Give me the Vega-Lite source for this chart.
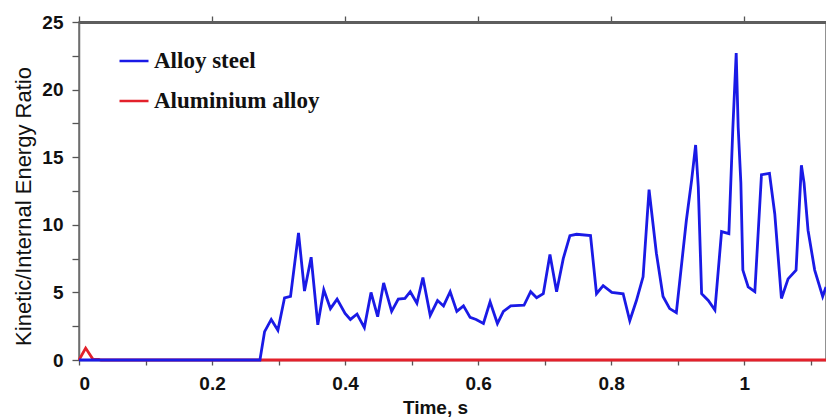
{
  "$schema": "https://vega.github.io/schema/vega-lite/v6.json",
  "width": 747,
  "height": 338,
  "autosize": {"type": "none"},
  "padding": {"left": 79, "top": 22, "right": 0, "bottom": 57},
  "background": "white",
  "config": {
    "view": {"stroke": "#6e6e6e", "strokeWidth": 1.5},
    "axis": {"grid": false, "domainColor": "#6e6e6e", "domainWidth": 1.5, "tickColor": "#555555", "tickWidth": 1.3, "labelFont": "Liberation Sans", "labelFontWeight": "bold", "labelFontSize": 19, "labelColor": "#111111", "titleColor": "#111111"}
  },
  "data": {"values": [
    {"t": 0, "v": 0, "s": "Aluminium alloy"},
    {"t": 0.01, "v": 0.88, "s": "Aluminium alloy"},
    {"t": 0.021, "v": 0.05, "s": "Aluminium alloy"},
    {"t": 0.03, "v": 0.05, "s": "Aluminium alloy"},
    {"t": 0.033, "v": 0, "s": "Aluminium alloy"},
    {"t": 1.123, "v": 0, "s": "Aluminium alloy"},
    {"t": 0, "v": 0, "s": "Alloy steel"},
    {"t": 0.272, "v": 0, "s": "Alloy steel"},
    {"t": 0.279, "v": 2.1, "s": "Alloy steel"},
    {"t": 0.289, "v": 3.0, "s": "Alloy steel"},
    {"t": 0.299, "v": 2.2, "s": "Alloy steel"},
    {"t": 0.309, "v": 4.6, "s": "Alloy steel"},
    {"t": 0.318, "v": 4.7, "s": "Alloy steel"},
    {"t": 0.330, "v": 9.4, "s": "Alloy steel"},
    {"t": 0.339, "v": 5.1, "s": "Alloy steel"},
    {"t": 0.349, "v": 7.6, "s": "Alloy steel"},
    {"t": 0.359, "v": 2.6, "s": "Alloy steel"},
    {"t": 0.368, "v": 5.2, "s": "Alloy steel"},
    {"t": 0.378, "v": 3.8, "s": "Alloy steel"},
    {"t": 0.388, "v": 4.5, "s": "Alloy steel"},
    {"t": 0.400, "v": 3.45, "s": "Alloy steel"},
    {"t": 0.408, "v": 3.0, "s": "Alloy steel"},
    {"t": 0.418, "v": 3.4, "s": "Alloy steel"},
    {"t": 0.429, "v": 2.4, "s": "Alloy steel"},
    {"t": 0.439, "v": 5.0, "s": "Alloy steel"},
    {"t": 0.449, "v": 3.2, "s": "Alloy steel"},
    {"t": 0.458, "v": 5.7, "s": "Alloy steel"},
    {"t": 0.470, "v": 3.6, "s": "Alloy steel"},
    {"t": 0.480, "v": 4.5, "s": "Alloy steel"},
    {"t": 0.490, "v": 4.55, "s": "Alloy steel"},
    {"t": 0.498, "v": 5.05, "s": "Alloy steel"},
    {"t": 0.508, "v": 4.2, "s": "Alloy steel"},
    {"t": 0.517, "v": 6.1, "s": "Alloy steel"},
    {"t": 0.528, "v": 3.3, "s": "Alloy steel"},
    {"t": 0.539, "v": 4.4, "s": "Alloy steel"},
    {"t": 0.548, "v": 4.0, "s": "Alloy steel"},
    {"t": 0.558, "v": 5.05, "s": "Alloy steel"},
    {"t": 0.568, "v": 3.6, "s": "Alloy steel"},
    {"t": 0.578, "v": 4.0, "s": "Alloy steel"},
    {"t": 0.588, "v": 3.15, "s": "Alloy steel"},
    {"t": 0.597, "v": 3.0, "s": "Alloy steel"},
    {"t": 0.608, "v": 2.7, "s": "Alloy steel"},
    {"t": 0.618, "v": 4.3, "s": "Alloy steel"},
    {"t": 0.629, "v": 2.7, "s": "Alloy steel"},
    {"t": 0.638, "v": 3.6, "s": "Alloy steel"},
    {"t": 0.649, "v": 4.0, "s": "Alloy steel"},
    {"t": 0.669, "v": 4.05, "s": "Alloy steel"},
    {"t": 0.679, "v": 5.05, "s": "Alloy steel"},
    {"t": 0.688, "v": 4.6, "s": "Alloy steel"},
    {"t": 0.698, "v": 4.9, "s": "Alloy steel"},
    {"t": 0.708, "v": 7.8, "s": "Alloy steel"},
    {"t": 0.718, "v": 5.05, "s": "Alloy steel"},
    {"t": 0.728, "v": 7.5, "s": "Alloy steel"},
    {"t": 0.738, "v": 9.2, "s": "Alloy steel"},
    {"t": 0.748, "v": 9.3, "s": "Alloy steel"},
    {"t": 0.769, "v": 9.2, "s": "Alloy steel"},
    {"t": 0.778, "v": 4.9, "s": "Alloy steel"},
    {"t": 0.788, "v": 5.5, "s": "Alloy steel"},
    {"t": 0.801, "v": 5.0, "s": "Alloy steel"},
    {"t": 0.818, "v": 4.9, "s": "Alloy steel"},
    {"t": 0.828, "v": 2.9, "s": "Alloy steel"},
    {"t": 0.838, "v": 4.4, "s": "Alloy steel"},
    {"t": 0.848, "v": 6.15, "s": "Alloy steel"},
    {"t": 0.857, "v": 12.6, "s": "Alloy steel"},
    {"t": 0.868, "v": 7.9, "s": "Alloy steel"},
    {"t": 0.878, "v": 4.7, "s": "Alloy steel"},
    {"t": 0.888, "v": 3.8, "s": "Alloy steel"},
    {"t": 0.898, "v": 3.5, "s": "Alloy steel"},
    {"t": 0.913, "v": 10.3, "s": "Alloy steel"},
    {"t": 0.921, "v": 13.3, "s": "Alloy steel"},
    {"t": 0.927, "v": 15.9, "s": "Alloy steel"},
    {"t": 0.931, "v": 12.8, "s": "Alloy steel"},
    {"t": 0.936, "v": 4.9, "s": "Alloy steel"},
    {"t": 0.946, "v": 4.4, "s": "Alloy steel"},
    {"t": 0.956, "v": 3.7, "s": "Alloy steel"},
    {"t": 0.966, "v": 9.5, "s": "Alloy steel"},
    {"t": 0.977, "v": 9.35, "s": "Alloy steel"},
    {"t": 0.983, "v": 17.2, "s": "Alloy steel"},
    {"t": 0.988, "v": 22.7, "s": "Alloy steel"},
    {"t": 0.991, "v": 17.2, "s": "Alloy steel"},
    {"t": 0.995, "v": 13.1, "s": "Alloy steel"},
    {"t": 0.998, "v": 6.65, "s": "Alloy steel"},
    {"t": 1.006, "v": 5.4, "s": "Alloy steel"},
    {"t": 1.016, "v": 5.05, "s": "Alloy steel"},
    {"t": 1.026, "v": 13.7, "s": "Alloy steel"},
    {"t": 1.038, "v": 13.8, "s": "Alloy steel"},
    {"t": 1.046, "v": 10.8, "s": "Alloy steel"},
    {"t": 1.056, "v": 4.55, "s": "Alloy steel"},
    {"t": 1.066, "v": 6.0, "s": "Alloy steel"},
    {"t": 1.078, "v": 6.65, "s": "Alloy steel"},
    {"t": 1.086, "v": 14.4, "s": "Alloy steel"},
    {"t": 1.090, "v": 13.1, "s": "Alloy steel"},
    {"t": 1.096, "v": 9.6, "s": "Alloy steel"},
    {"t": 1.106, "v": 6.65, "s": "Alloy steel"},
    {"t": 1.118, "v": 4.7, "s": "Alloy steel"},
    {"t": 1.123, "v": 5.4, "s": "Alloy steel"}
  ]},
  "resolve": {"scale": {"x": "independent", "y": "independent"}, "axis": {"x": "independent", "y": "independent"}},
  "layer": [
    {
      "mark": {"type": "rule", "color": "#5e5e5e", "strokeWidth": 2},
      "encoding": {
        "y": {"datum": 24.95, "type": "quantitative", "scale": {"domain": [0, 25], "nice": false}, "axis": null}
      }
    },
    {
      "mark": {"type": "line", "opacity": 0},
      "encoding": {
        "x": {"field": "t", "type": "quantitative", "scale": {"domain": [0, 1.123], "nice": false, "zero": false},
          "axis": {"orient": "top", "values": [0, 0.2, 0.4, 0.6, 0.8, 1], "tickSize": 6, "labels": false, "domain": false, "title": null,
            "encode": {"ticks": {"update": {"y": {"value": 0}, "y2": {"value": 6}}}}}},
        "y": {"field": "v", "type": "quantitative", "scale": {"domain": [0, 25], "nice": false}, "axis": null},
        "detail": {"field": "s", "type": "nominal"}
      }
    },
    {
      "transform": [{"filter": "datum.s === 'Aluminium alloy'"}],
      "mark": {"type": "line", "strokeWidth": 2.8},
      "encoding": {
        "x": {"field": "t", "type": "quantitative", "scale": {"domain": [0, 1.123], "nice": false, "zero": false},
          "axis": {"orient": "bottom", "values": [0, 0.1, 0.2, 0.3, 0.4, 0.5, 0.6, 0.7, 0.8, 0.9, 1, 1.1], "format": "~g",
            "labelExpr": "indexof([0, 0.2, 0.4, 0.6, 0.8, 1], datum.value) >= 0 ? datum.label : ''",
            "tickSize": 5, "labelPadding": 9, "domain": true,
            "encode": {"ticks": {"update": {
              "y": {"signal": "indexof([0, 0.2, 0.4, 0.6, 0.8, 1], datum.value) >= 0 ? -5 : 0"},
              "y2": {"signal": "indexof([0, 0.2, 0.4, 0.6, 0.8, 1], datum.value) >= 0 ? 5 : -6"}}}},
            "title": "Time, s", "titleFont": "Liberation Sans", "titleFontWeight": "bold", "titleFontSize": 19, "titleX": 356, "titleY": 53, "titleBaseline": "alphabetic", "titleAlign": "center"}},
        "y": {"field": "v", "type": "quantitative", "scale": {"domain": [0, 25], "nice": false},
          "axis": {"orient": "left", "values": [0, 2.5, 5, 7.5, 10, 12.5, 15, 17.5, 20, 22.5, 25],
            "labelExpr": "datum.value % 5 === 0 ? datum.label : ''",
            "tickSize": 7, "labelPadding": 9, "domain": true,
            "encode": {"ticks": {"update": {
              "x": {"signal": "datum.value % 5 === 0 ? 5 : 0"},
              "x2": {"signal": "datum.value % 5 === 0 ? -7 : 7"}}}},
            "title": "Kinetic/Internal Energy Ratio", "titleFont": "Liberation Sans", "titleFontWeight": "normal", "titleFontSize": 22, "titleX": -49, "titleY": 184, "titleAngle": -90, "titleBaseline": "alphabetic", "titleAlign": "center"}},
        "color": {"field": "s", "type": "nominal",
          "scale": {"domain": ["Alloy steel", "Aluminium alloy"], "range": ["#1a1ae6", "#e3212b"]},
          "legend": {"orient": "none", "legendX": 39, "legendY": 23, "title": null, "padding": 0,
            "symbolType": "stroke", "symbolSize": 841, "symbolStrokeWidth": 2.5, "rowPadding": 12, "labelOffset": 4, "labelLimit": 0,
            "labelFont": "Liberation Serif", "labelFontWeight": "bold", "labelFontSize": 23, "labelColor": "#111111",
            "encode": {"symbols": {"update": {"stroke": {"signal": "datum.value === 'Alloy steel' ? '#2a80d4' : '#e3212b'"}}}}}}
      }
    },
    {
      "transform": [{"filter": "datum.s === 'Alloy steel'"}],
      "mark": {"type": "line", "strokeWidth": 2.8},
      "encoding": {
        "x": {"field": "t", "type": "quantitative", "scale": {"domain": [0, 1.123], "nice": false, "zero": false}, "axis": null},
        "y": {"field": "v", "type": "quantitative", "scale": {"domain": [0, 25], "nice": false}, "axis": null},
        "color": {"field": "s", "type": "nominal"}
      }
    }
  ]
}
